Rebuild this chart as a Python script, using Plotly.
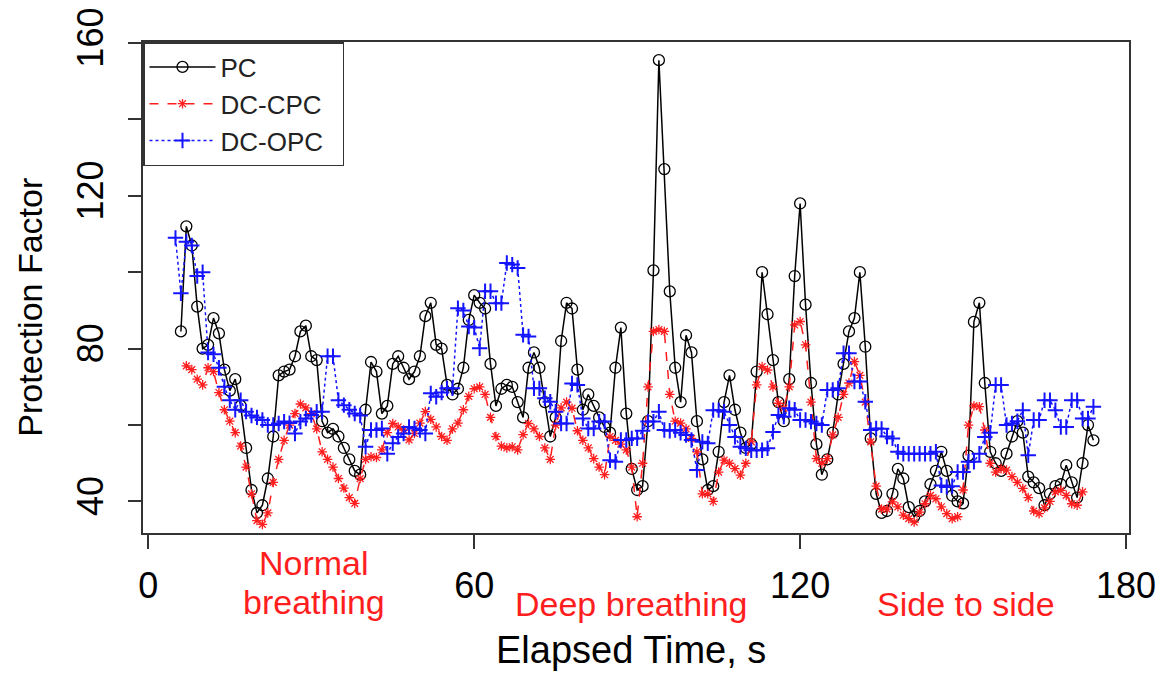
import plotly.graph_objects as go

# valori, un campione al secondo
pc_start = 6
pc = [84.5, 112, 107, 91, 80, 81, 88, 84, 74.5, 69,
      72, 65, 54, 43, 37, 39, 46, 57, 73, 74,
      74.5, 78, 84.5, 86, 78, 77, 61, 58, 59, 57,
      54, 51, 48, 47, 64, 76.5, 74, 63, 65, 76,
      78, 75, 72, 74, 78, 88.5, 92, 81, 80, 70.5,
      68, 69.5, 75, 87.5, 94, 92, 90.5, 76, 65, 69.5,
      70.5, 70, 66, 62, 75, 79, 75, 66, 57, 62,
      82, 92, 90.5, 74.5, 64, 68, 65, 62, 59.5, 58,
      75, 85.5, 63, 48.5, 43, 44, 61, 100.5, 155.5, 127,
      95, 75, 66, 83.5, 79, 61, 51, 43, 44, 53,
      66, 73, 64, 58, 54, 55, 74, 100, 89, 77,
      66, 61, 72, 99, 118, 91.5, 71, 55, 47, 51,
      58, 68, 76, 84.5, 88, 100, 80.5, 56.5, 42, 37,
      37.5, 42, 48.5, 46, 38.5, 36, 37.5, 40, 44.5, 48,
      53, 48, 41.5, 40, 39.5, 52, 87, 92, 71, 53,
      50, 48, 52.5, 57, 61, 58, 46.5, 45, 43.5, 39,
      42, 44, 44.5, 49.5, 45, 41, 50, 60, 56]

cpc_start = 7
dc_cpc = [75.5, 74.5, 72, 70.5, 75, 74, 68.5, 64, 61, 58,
          54.5, 49, 42, 35, 34, 37, 45, 51, 56, 60,
          63, 65.5, 64.5, 63, 59, 53, 51, 49, 46, 43.5,
          41, 39.5, 46, 51, 51.7, 51.5, 53.5, 58, 60.4, 59.5,
          58.7, 56.1, 57.8, 60.5, 63.5, 61.5, 59.5, 57, 56, 59,
          60.5, 64, 67.5, 69.5, 70, 68, 62, 57, 54.5, 54,
          54.3, 53.5, 57.5, 60.4, 59, 57, 54, 51, 60, 64.5,
          66, 64.4, 58.5, 56, 54, 51.2, 49, 47, 57, 56,
          55, 53.5, 49, 36, 50, 70, 84.5, 85, 84.5, 68,
          61, 60.5, 59, 56.5, 53, 42, 42, 40, 47.7, 50.8,
          50, 48.6, 46.9, 50, 55.6, 70.5, 75.3, 74.4, 70, 65.7,
          64.4, 70, 86.2, 87.1, 81, 66, 51.2, 50, 51.2, 57.4,
          62, 68, 71, 76.6, 73, 66, 55.6, 44, 38, 38,
          39.9, 38.6, 36.4, 35.5, 34.6, 37.2, 39.4, 41.6, 40.7, 38.6,
          36.8, 35.5, 36, 43, 60, 65, 64.8, 58.7, 50, 47.7,
          48.6, 48.2, 46.5, 45, 43.4, 41, 37.5, 36.8, 38.3, 40,
          42.5, 42.9, 41.6, 39.4, 39, 42.5]

opc_start = 5
dc_opc = [109, 94.5, 108, 107, 99, 100, 79, 78.5, 75, 70,
          66.5, 64, 66.5, 63.5, 62.5, 62, 61.3, 60, 60, 60.4,
          60.9, 60.5, 57.8, 60.9, 61.7, 62.6, 63.5, 63.5, 78, 78,
          66.5, 65.2, 64, 63, 62.5, 54.3, 58.7, 58.7, 59.1, 52.5,
          55.2, 56.9, 57.8, 59.5, 59.1, 58.7, 57.8, 68.3, 67.4, 68.5,
          69.6, 69.6, 90.6, 90, 85.8, 85.5, 80.1, 95, 95, 91.9,
          91.9, 102.4, 102, 101.1, 83.6, 83.2, 69.6, 69.6, 67, 66.1,
          63.5, 60.4, 60.4, 70.9, 70.5, 61.7, 59.1, 59.1, 60.9, 60.9,
          50.8, 50.4, 56.1, 56.1, 56.5, 56.5, 58.5, 60.9, 60.9, 63.5,
          58.7, 58.5, 58.7, 58, 57.4, 56.1, 48.2, 55.6, 55.2, 63.9,
          63.9, 63.5, 60, 56.9, 54.3, 53.9, 53.4, 53.4, 53.4, 53.9,
          58.2, 62.6, 62.2, 64.4, 64, 61.3, 61.3, 60.9, 60.4, 60,
          69.2, 69.2, 69.6, 78.8, 78.8, 71.4, 71.4, 66.1, 58.7, 59.1,
          59, 57, 56.5, 53, 52.5, 52.5, 52.5, 52.5, 52.5, 52.5,
          53, 44.2, 43.8, 44, 47.7, 47.7, 50.4, 50.4, 52.5, 56.9,
          58, 70.5, 70.5, 60, 60.4, 61, 63.9, 52.1, 61.3, 61.3,
          66.5, 66.5, 63.9, 59.5, 59.5, 66.5, 66.5, 61.7, 61.7, 64.8]

x_ticks = [0, 60, 120, 180]
y_ticks = [40, 60, 80, 100, 120, 140, 160]
y_labels = ["40", "", "80", "", "120", "", "160"]

# fasi: testo, posizione x (secondi), posizione y (frazione del riquadro)
phases = ["Normal", "breathing", "Deep breathing", "Side to side"]
phase_x = [30.5, 30.5, 88.9, 150.5]
phase_y = [-0.061, -0.1405, -0.1438, -0.1438]

pc_t = list(range(pc_start, pc_start + len(pc)))
cpc_t = list(range(cpc_start, cpc_start + len(dc_cpc)))
opc_t = list(range(opc_start, opc_start + len(dc_opc)))

FONT = "Liberation Sans"
RED = "rgb(255,30,30)"
BLUE = "rgb(20,20,255)"
PAD = "&nbsp;&nbsp;"

fig = go.Figure()

fig.add_trace(go.Scatter(
    x=pc_t, y=pc, name="PC" + PAD, mode="lines+markers",
    line=dict(color="black", width=1.5),
    marker=dict(symbol="circle-open", size=11, color="black", line=dict(width=1.3))
))
fig.add_trace(go.Scatter(
    x=cpc_t, y=dc_cpc, name="DC-CPC" + PAD, mode="lines+markers",
    line=dict(color=RED, width=1.5, dash="dash"),
    marker=dict(symbol="asterisk-open", size=8, color=RED, line=dict(width=1.3, color=RED))
))
fig.add_trace(go.Scatter(
    x=opc_t, y=dc_opc, name="DC-OPC" + PAD, mode="lines+markers",
    line=dict(color=BLUE, width=1.5, dash="dot"),
    marker=dict(symbol="cross-thin-open", size=11, color=BLUE, line=dict(width=2, color=BLUE))
))

# etichette delle fasi sotto l'asse x
for txt, px, py in zip(phases, phase_x, phase_y):
    fig.add_annotation(x=px, y=py, xref="x", yref="paper", text=txt,
                       showarrow=False, font=dict(family=FONT, size=34, color=RED),
                       yanchor="middle")

fig.add_annotation(x=0.4954, y=-0.2384, xref="paper", yref="paper", text="Elapsed Time, s",
                   showarrow=False, font=dict(family=FONT, size=38, color="black"),
                   yanchor="middle")
fig.add_annotation(x=-0.1146, y=0.459, xref="paper", yref="paper", text="Protection Factor",
                   textangle=-90, showarrow=False, font=dict(family=FONT, size=34, color="black"),
                   xanchor="center")

fig.update_layout(
    width=1176, height=673,
    margin=dict(l=143, r=47, t=42, b=140),
    paper_bgcolor="white", plot_bgcolor="white",
    font=dict(family=FONT, color="black"),
    showlegend=True,
    legend=dict(x=0, y=1, xanchor="left", yanchor="top",
                bordercolor="#333", borderwidth=1.5, bgcolor="white",
                font=dict(family=FONT, size=26, color="#222"),
                itemwidth=66, tracegroupgap=0),
    xaxis=dict(range=[-0.98, 180.55], tickvals=x_ticks, showgrid=False, zeroline=False,
               showline=True, mirror=True, linecolor="#333", linewidth=1.5,
               ticks="outside", ticklen=14, tickwidth=1.5, tickcolor="#333",
               tickfont=dict(family=FONT, size=36), ticklabelstandoff=6,
               automargin=False),
    yaxis=dict(range=[31.74, 160.26], tickvals=y_ticks, ticktext=y_labels, showgrid=False,
               zeroline=False, showline=True, mirror=True, linecolor="#333", linewidth=1.5,
               ticks="outside", ticklen=13, tickwidth=1.5, tickcolor="#333",
               tickangle=-90, tickfont=dict(family=FONT, size=36), ticklabelstandoff=11,
               automargin=False),
)

# tolgo il margine di default del body, cosi' il grafico parte da (0, 0)
fig.write_html("out.html", config={"displayModeBar": False},
               post_script="document.body.style.margin='0';document.body.style.overflow='hidden';")
